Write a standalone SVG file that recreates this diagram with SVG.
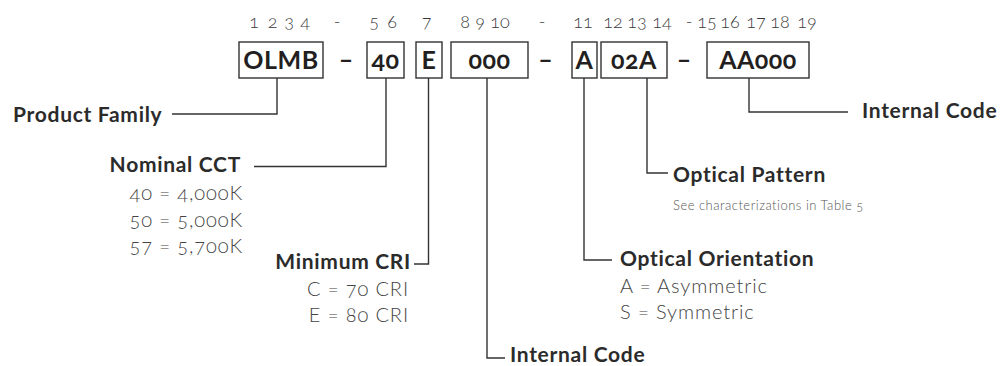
<svg xmlns="http://www.w3.org/2000/svg" width="1004" height="366" viewBox="0 0 1004 366">
<style>
.bg{fill:#ffffff}
.box rect{fill:#ffffff;stroke:#333333;stroke-width:1.4}
.code{font-family:Lato,"Open Sans",sans-serif;font-weight:700;font-size:25px;fill:#231f20;text-anchor:middle;font-variant-numeric:oldstyle-nums;letter-spacing:0.5px}
.dash{font-family:Lato,"Open Sans",sans-serif;font-weight:700;font-size:25px;fill:#231f20;text-anchor:middle}
.num{font-family:Lato,"Open Sans",sans-serif;font-weight:300;font-size:18px;fill:#3a3a3a;text-anchor:middle;font-variant-numeric:oldstyle-nums}
.lbl{font-family:Lato,"Open Sans",sans-serif;font-weight:700;font-size:21px;fill:#2b2b2b;letter-spacing:0.7px}
.sub{font-family:Lato,"Open Sans",sans-serif;font-weight:300;font-size:20px;fill:#444444;font-variant-numeric:oldstyle-nums;letter-spacing:0.9px}
.note{font-family:Lato,"Open Sans",sans-serif;font-weight:300;font-size:13px;fill:#555555;font-variant-numeric:oldstyle-nums;letter-spacing:0.5px}
.end{text-anchor:end}
#connectors path{fill:none;stroke:#333333;stroke-width:1.4}
</style>
<rect class="bg" x="0" y="0" width="1004" height="366"/>
<g id="positions">
<text class="num" x="254" y="28">1</text>
<text class="num" x="272.5" y="28">2</text>
<text class="num" x="289" y="28">3</text>
<text class="num" x="305" y="28">4</text>
<text class="num" x="337" y="28">-</text>
<text class="num" x="374" y="28">5</text>
<text class="num" x="392" y="28">6</text>
<text class="num" x="426.5" y="28">7</text>
<text class="num" x="465" y="28">8</text>
<text class="num" x="480" y="28">9</text>
<text class="num" x="500" y="28">10</text>
<text class="num" x="542" y="28">-</text>
<text class="num" x="583" y="28">11</text>
<text class="num" x="613" y="28">12</text>
<text class="num" x="637" y="28">13</text>
<text class="num" x="662" y="28">14</text>
<text class="num" x="689" y="28">-</text>
<text class="num" x="707" y="28">15</text>
<text class="num" x="730" y="28">16</text>
<text class="num" x="756" y="28">17</text>
<text class="num" x="780" y="28">18</text>
<text class="num" x="807" y="28">19</text>
</g>
<g id="connectors">
<path d="M277 78 V114 H172"/>
<path d="M386 78 V166.5 H254"/>
<path d="M428.5 78 V264 H414"/>
<path d="M487 78 V358 H505"/>
<path d="M584 78 V260 H612"/>
<path d="M647 78 V173 H668"/>
<path d="M749 78 V112 H848"/>
</g>
<g id="box-olmb" class="box"><rect x="239" y="42" width="84" height="36"/><text class="code" x="281" y="69">OLMB</text></g>
<text class="dash" x="346" y="68">–</text>
<g id="box-40" class="box"><rect x="367" y="42" width="37" height="36"/><text class="code" x="385.5" y="69">40</text></g>
<g id="box-e" class="box"><rect x="416" y="42" width="26" height="36"/><text class="code" x="429" y="69">E</text></g>
<g id="box-000" class="box"><rect x="451" y="42" width="77" height="36"/><text class="code" x="489.5" y="69">000</text></g>
<text class="dash" x="545.5" y="68">–</text>
<g id="box-a" class="box"><rect x="572" y="42" width="25" height="36"/><text class="code" x="584.5" y="69">A</text></g>
<g id="box-02a" class="box"><rect x="601" y="42" width="66" height="36"/><text class="code" x="634" y="69">02A</text></g>
<text class="dash" x="684" y="68">–</text>
<g id="box-aa000" class="box"><rect x="707" y="42" width="102" height="36"/><text class="code" x="758" y="69">AA000</text></g>
<g id="label-product-family"><text class="lbl" x="13" y="122">Product Family</text></g>
<g id="label-nominal-cct">
<text class="lbl end" x="241" y="172">Nominal CCT</text>
<text class="sub end" x="243" y="200">40 = 4,000K</text>
<text class="sub end" x="243" y="227">50 = 5,000K</text>
<text class="sub end" x="243" y="253">57 = 5,700K</text>
</g>
<g id="label-minimum-cri">
<text class="lbl end" x="411" y="269">Minimum CRI</text>
<text class="sub end" x="409" y="296">C = 70 CRI</text>
<text class="sub end" x="409" y="322">E = 80 CRI</text>
</g>
<g id="label-internal-code-1"><text class="lbl" x="510" y="362">Internal Code</text></g>
<g id="label-optical-orientation">
<text class="lbl" x="620" y="266">Optical Orientation</text>
<text class="sub" x="620" y="293">A = Asymmetric</text>
<text class="sub" x="620" y="319">S = Symmetric</text>
</g>
<g id="label-optical-pattern">
<text class="lbl" x="673" y="182">Optical Pattern</text>
<text class="note" x="673" y="210">See characterizations in Table 5</text>
</g>
<g id="label-internal-code-2"><text class="lbl" x="862" y="118">Internal Code</text></g>
</svg>
